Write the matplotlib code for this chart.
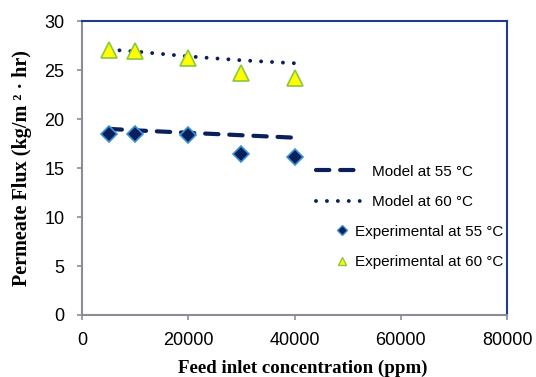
import matplotlib
matplotlib.use("Agg")
import matplotlib.pyplot as plt
from matplotlib.lines import Line2D

# Feed concentrations (ppm)
conc = [5000, 10000, 20000, 30000, 40000]

# Model predictions (kg/m2 hr)
model_55 = [19.0, 18.85, 18.6, 18.35, 18.1]
model_60 = [27.1, 26.9, 26.4, 26.0, 25.7]

# Experimental measurements (kg/m2 hr)
exp_55 = [18.5, 18.5, 18.4, 16.4, 16.1]
exp_60 = [27.0, 26.9, 26.2, 24.7, 24.2]

navy = "#0A1F5C"
spine_blue = "#1F3A93"
gray = "#8C8C96"

fig = plt.figure(figsize=(5.36, 3.77), dpi=100)
ax = fig.add_axes([0.153, 0.1645, 0.793, 0.7795])

l55, = ax.plot(conc, model_55, color=navy, lw=3.0, linestyle=(0, (3.2, 2.6)),
               dash_capstyle="round", zorder=2)
l60, = ax.plot(conc, model_60, color=navy, lw=2.8, linestyle=(0, (0.01, 2.8)),
               dash_capstyle="round", zorder=2)
e55, = ax.plot(conc, exp_55, linestyle="none", marker="D", markersize=8.5,
               markerfacecolor=navy, markeredgecolor="#3A93D6", markeredgewidth=1.2, zorder=3)
e60, = ax.plot(conc, exp_60, linestyle="none", marker="^", markersize=11,
               markerfacecolor="#FFFF00", markeredgecolor="#8DC63F", markeredgewidth=1.2, zorder=3)

ax.set_xlim(0, 80000)
ax.set_ylim(0, 30)
ax.set_xticks([0, 20000, 40000, 60000, 80000])
ax.set_yticks([0, 5, 10, 15, 20, 25, 30])

for side in ("left", "bottom"):
    ax.spines[side].set_color(gray)
    ax.spines[side].set_linewidth(1.5)
for side in ("top", "right"):
    ax.spines[side].set_color(spine_blue)
    ax.spines[side].set_linewidth(1.5)

ax.tick_params(axis="both", direction="out", length=3.6, width=1.2, color=gray,
               labelsize=13, labelcolor="black")
ax.tick_params(axis="x", pad=9)
ax.tick_params(axis="y", pad=9)
for lab in ax.get_xticklabels() + ax.get_yticklabels():
    lab.set_fontfamily("Liberation Sans")

ax.set_xlabel("Feed inlet concentration (ppm)", fontfamily="Liberation Serif",
              fontweight="bold", fontsize=13.6, labelpad=7.5)
ax.xaxis.label.set_x(0.52)
ax.set_ylabel("Permeate Flux (kg/m \u00b2 \u00b7 hr)", fontfamily="Liberation Serif",
              fontweight="bold", fontsize=14.5, labelpad=9)

leg_font = {"family": "Liberation Sans", "size": 11}
leg1 = ax.legend([l55, l60], ["Model at 55 \u00b0C", "Model at 60 \u00b0C"],
                 loc="upper left", bbox_to_anchor=(0.5506, 0.512), frameon=False,
                 prop=leg_font, handlelength=2.95, handletextpad=0.72,
                 labelspacing=1.07, borderpad=0, borderaxespad=0)
ax.add_artist(leg1)

h55 = Line2D([], [], linestyle="none", marker="D", markersize=5,
             markerfacecolor=navy, markeredgecolor="#3A93D6", markeredgewidth=1)
h60 = Line2D([], [], linestyle="none", marker="^", markersize=6,
             markerfacecolor="#FFFF00", markeredgecolor="#8DC63F", markeredgewidth=1)
leg2 = ax.legend([h55, h60], ["Experimental at 55 \u00b0C", "Experimental at 60 \u00b0C"],
                 loc="upper left", bbox_to_anchor=(0.598, 0.307), frameon=False,
                 prop=leg_font, handlelength=0.8, handletextpad=0.46,
                 labelspacing=1.07, borderpad=0, borderaxespad=0)

fig.savefig("out.png", dpi=100)
